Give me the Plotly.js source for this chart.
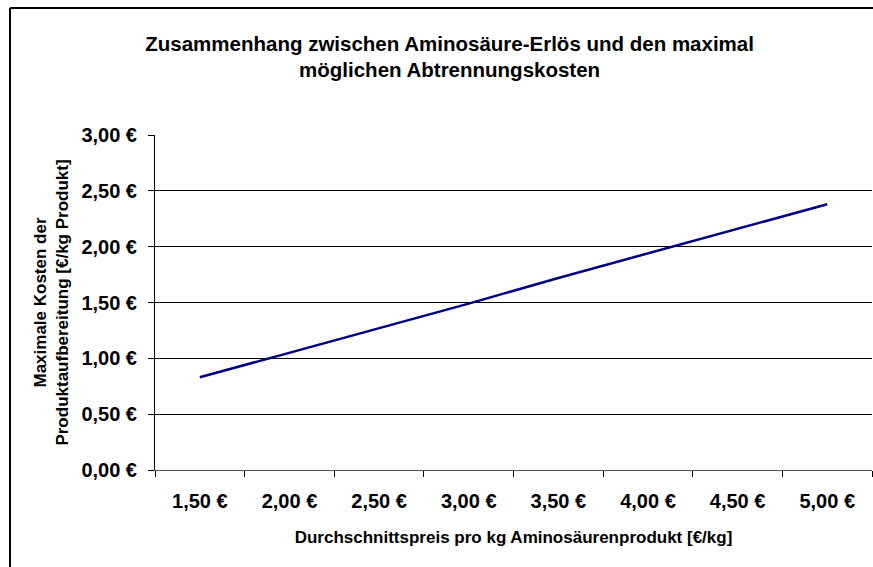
<!DOCTYPE html>
<html><head><meta charset="utf-8">
<script src="https://cdn.plot.ly/plotly-3.0.1.min.js"></script>
<style>html,body{margin:0;padding:0;background:#fff;}#chart{width:873px;height:567px;}</style>
</head><body><div id="chart"></div>
<script>
const categories = ["1,50 €","2,00 €","2,50 €","3,00 €","3,50 €","4,00 €","4,50 €","5,00 €"];
const maxCosts = [0.83, 1.05, 1.27, 1.49, 1.72, 1.94, 2.16, 2.38];
const yTickVals = [0, 0.5, 1, 1.5, 2, 2.5, 3];
const yTickText = ["0,00 €","0,50 €","1,00 €","1,50 €","2,00 €","2,50 €","3,00 €"];

const W = 873, H = 567, L = 155, R = 1, T = 135, B = 97;
const pw = W - L - R, ph = H - T - B;
const px = v => (v - L) / pw, py = v => (H - B - v) / ph;

const fontFam = "Liberation Sans, Arial, sans-serif";
Plotly.newPlot("chart", [{
  x: categories, y: maxCosts, type: "scatter", mode: "lines",
  line: {color: "#000080", width: 2.5}, hoverinfo: "skip"
}], {
  width: W, height: H,
  margin: {l: L, r: R, t: T, b: B, pad: 0},
  paper_bgcolor: "#fff", plot_bgcolor: "#fff",
  showlegend: false,
  font: {family: fontFam, color: "#000"},
  title: {text: "<b>Zusammenhang zwischen Aminosäure-Erlös und den maximal<br>möglichen Abtrennungskosten</b>",
    font: {size: 20.5, family: fontFam, color: "#000"}, x: 0.515, xanchor: "center", y: 1 - 50.5/H, yanchor: "middle"},
  xaxis: {type: "category", range: [-0.5, 7.5], tickson: "boundaries", ticks: "outside", ticklen: 6,
    tickcolor: "#000", showline: true, linecolor: "#555", linewidth: 1, showgrid: false, zeroline: false,
    tickfont: {size: 20, family: fontFam, color: "#000", weight: "bold"}, ticklabelstandoff: 13,
    title: {text: "<b>Durchschnittspreis pro kg Aminosäurenprodukt [€/kg]</b>", font: {size: 17, family: fontFam, color: "#000"}, standoff: 20},
    fixedrange: true},
  yaxis: {range: [0, 3], tickvals: yTickVals, ticktext: yTickText, ticks: "outside", ticklen: 6, tickcolor: "#000",
    showline: true, linecolor: "#000", linewidth: 1, showgrid: true, gridcolor: "#000", gridwidth: 1, zeroline: false,
    tickfont: {size: 20, family: fontFam, color: "#000", weight: "bold"}, ticklabelstandoff: 7,
    title: {text: "<b>Maximale Kosten der<br>Produktaufbereitung [€/kg Produkt]</b>", font: {size: 17, family: fontFam, color: "#000"}, standoff: 8},
    fixedrange: true},
  shapes: [
    {type: "line", xref: "paper", yref: "paper", x0: px(10), x1: px(10), y0: py(8), y1: py(H + 5), line: {color: "#000", width: 2}},
    {type: "line", xref: "paper", yref: "paper", x0: px(10), x1: px(W + 5), y0: py(8), y1: py(8), line: {color: "#000", width: 2}}
  ]
}, {staticPlot: true});
</script></body></html>
